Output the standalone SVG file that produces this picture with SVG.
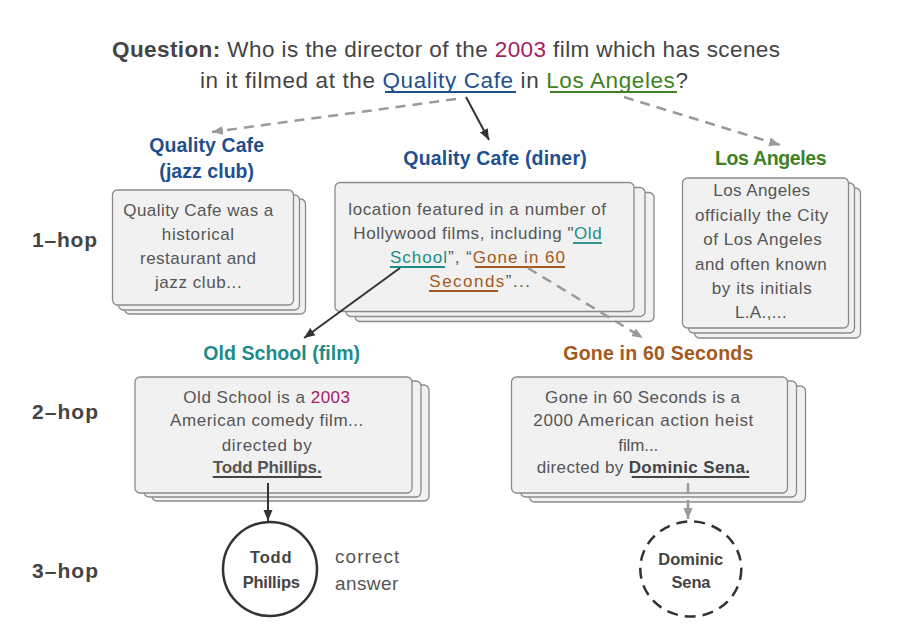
<svg xmlns="http://www.w3.org/2000/svg" width="920" height="639" viewBox="0 0 920 639">
<style>
text{font-family:"Liberation Sans",Arial,Helvetica,sans-serif}
.box{fill:#f1f1f1;stroke:#8a8a8a;stroke-width:1.3}
.bt{font-size:17px;fill:#555;text-anchor:middle}
.lbl{font-size:19.5px;font-weight:bold;text-anchor:middle}
.hop{font-size:21px;font-weight:bold;fill:#444}
.title{font-size:22.5px;fill:#444}
.solid{stroke:#333;stroke-width:2;fill:none}
.dash{stroke:#9a9a9a;stroke-width:2.5;stroke-dasharray:10 7;fill:none}
.ul{stroke-width:1.8}
.blue{fill:#1f4f8e}
.green{fill:#3f8124}
.teal{fill:#1d8c88}
.brown{fill:#a35a1c}
.red{fill:#a3205e}
.ctext{font-size:16.5px;font-weight:bold;fill:#444;text-anchor:middle}
</style>
<defs>
<marker id="ab" markerWidth="12" markerHeight="10" refX="11" refY="5" orient="auto" markerUnits="userSpaceOnUse"><path d="M0,0.5 L11,5 L0,9.5 z" fill="#333"/></marker>
<marker id="ag" markerWidth="12" markerHeight="10" refX="11" refY="5" orient="auto" markerUnits="userSpaceOnUse"><path d="M0,0.5 L11,5 L0,9.5 z" fill="#9a9a9a"/></marker>
</defs>
<rect width="920" height="639" fill="#ffffff"/>

<g id="question">
<text class="title" x="112" y="57" textLength="668" lengthAdjust="spacing"><tspan font-weight="bold">Question:</tspan> Who is the director of the <tspan class="red">2003</tspan> film which has scenes</text>
<text class="title" x="200" y="88" textLength="488" lengthAdjust="spacing">in it filmed at the <tspan class="blue">Quality Cafe</tspan> in <tspan class="green">Los Angeles</tspan>?</text>
<line class="ul" x1="385" y1="92" x2="516" y2="92" stroke="#1f4f8e"/>
<line class="ul" x1="550" y1="92" x2="677" y2="92" stroke="#3f8124"/>
</g>

<g id="hops">
<text class="hop" x="32" y="247" textLength="65" lengthAdjust="spacing">1–hop</text>
<text class="hop" x="32" y="419" textLength="66" lengthAdjust="spacing">2–hop</text>
<text class="hop" x="32" y="578" textLength="66" lengthAdjust="spacing">3–hop</text>
</g>

<g id="jazz">
<text class="lbl blue" x="206.7" y="152" textLength="114.7" lengthAdjust="spacing">Quality Cafe</text>
<text class="lbl blue" x="206.7" y="178" textLength="94.7" lengthAdjust="spacing">(jazz club)</text>
<rect class="box" x="124.5" y="199" width="181" height="115" rx="5"/>
<rect class="box" x="118.5" y="195" width="181" height="115" rx="5"/>
<rect class="box" x="112.5" y="190" width="181" height="115" rx="5"/>
<text class="bt" x="198.3" y="216" textLength="150" lengthAdjust="spacing">Quality Cafe was a</text>
<text class="bt" x="198" y="240" textLength="72.3" lengthAdjust="spacing">historical</text>
<text class="bt" x="198" y="264" textLength="116" lengthAdjust="spacing">restaurant and</text>
<text class="bt" x="198.3" y="288" textLength="86.7" lengthAdjust="spacing">jazz club...</text>
</g>

<g id="diner">
<text class="lbl blue" x="495" y="165" textLength="183.3" lengthAdjust="spacing">Quality Cafe (diner)</text>
<rect class="box" x="355" y="192.5" width="299" height="129" rx="5"/>
<rect class="box" x="346" y="187.5" width="299" height="129" rx="5"/>
<rect class="box" x="335" y="182.5" width="299" height="129" rx="5"/>
<text class="bt" x="477.2" y="215" textLength="257.7" lengthAdjust="spacing">location featured in a number of</text>
<text class="bt" x="477.5" y="239" textLength="248.3" lengthAdjust="spacing">Hollywood films, including "<tspan class="teal">Old</tspan></text>
<text class="bt" x="477.5" y="263" textLength="175" lengthAdjust="spacing"><tspan class="teal">School</tspan>”, “<tspan class="brown">Gone in 60</tspan></text>
<text class="bt" x="479.7" y="287" textLength="100.7" lengthAdjust="spacing"><tspan class="brown">Seconds</tspan>”...</text>
<line class="ul" x1="573" y1="243" x2="602" y2="243" stroke="#1d8c88"/>
<line class="ul" x1="390" y1="267" x2="445" y2="267" stroke="#1d8c88"/>
<line class="ul" x1="475" y1="267" x2="565" y2="267" stroke="#a35a1c"/>
<line class="ul" x1="429" y1="291" x2="498" y2="291" stroke="#a35a1c"/>
</g>

<g id="la">
<text class="lbl green" x="770.8" y="165" textLength="111.7" lengthAdjust="spacing">Los Angeles</text>
<rect class="box" x="694.5" y="188" width="166" height="150" rx="5"/>
<rect class="box" x="688.5" y="183" width="166" height="150" rx="5"/>
<rect class="box" x="682.5" y="178" width="166" height="150" rx="5"/>
<text class="bt" x="761.7" y="196" textLength="96.7" lengthAdjust="spacing">Los Angeles</text>
<text class="bt" x="761.7" y="221" textLength="133.3" lengthAdjust="spacing">officially the City</text>
<text class="bt" x="762.5" y="245" textLength="118.3" lengthAdjust="spacing">of Los Angeles</text>
<text class="bt" x="760.8" y="270" textLength="131.7" lengthAdjust="spacing">and often known</text>
<text class="bt" x="761.7" y="294" textLength="100" lengthAdjust="spacing">by its initials</text>
<text class="bt" x="760.8" y="318" textLength="51.7" lengthAdjust="spacing">L.A.,...</text>
</g>

<g id="oldschool">
<text class="lbl teal" x="281.7" y="360" textLength="156.7" lengthAdjust="spacing">Old School (film)</text>
<rect class="box" x="152" y="385" width="277" height="116" rx="5"/>
<rect class="box" x="144" y="381" width="277" height="116" rx="5"/>
<rect class="box" x="135" y="377" width="277" height="116" rx="5"/>
<text class="bt" x="266.7" y="403" textLength="166.7" lengthAdjust="spacing">Old School is a <tspan class="red">2003</tspan></text>
<text class="bt" x="266.7" y="426" textLength="193.3" lengthAdjust="spacing">American comedy film...</text>
<text class="bt" x="266.7" y="451" textLength="90" lengthAdjust="spacing">directed by</text>
<text class="bt" x="267.2" y="473" textLength="109" lengthAdjust="spacing" font-weight="bold" fill="#444">Todd Phillips.</text>
<line class="ul" x1="212.7" y1="477" x2="321.7" y2="477" stroke="#444"/>
</g>

<g id="gone">
<text class="lbl brown" x="658.3" y="360" textLength="190" lengthAdjust="spacing">Gone in 60 Seconds</text>
<rect class="box" x="529.5" y="386" width="276" height="116" rx="5"/>
<rect class="box" x="520.5" y="381" width="276" height="116" rx="5"/>
<rect class="box" x="511.5" y="377" width="276" height="116" rx="5"/>
<text class="bt" x="642.5" y="403" textLength="195" lengthAdjust="spacing">Gone in 60 Seconds is a</text>
<text class="bt" x="643.3" y="426" textLength="220" lengthAdjust="spacing">2000 American action heist</text>
<text class="bt" x="638.3" y="451" textLength="40" lengthAdjust="spacing">film...</text>
<text class="bt" x="643.3" y="473" textLength="213.3" lengthAdjust="spacing">directed by <tspan font-weight="bold" fill="#444">Dominic Sena.</tspan></text>
<line class="ul" x1="631.7" y1="477" x2="749.3" y2="477" stroke="#444"/>
</g>

<g id="todd">
<circle cx="270" cy="569" r="47" fill="none" stroke="#333" stroke-width="2.5"/>
<text class="ctext" x="270.8" y="563" textLength="41.7" lengthAdjust="spacing">Todd</text>
<text class="ctext" x="271.3" y="588" textLength="57.3" lengthAdjust="spacing">Phillips</text>
<text x="335" y="563" font-size="19" fill="#555" textLength="64.3" lengthAdjust="spacing">correct</text>
<text x="335" y="590" font-size="19" fill="#555" textLength="63.3" lengthAdjust="spacing">answer</text>
</g>

<g id="dominic">
<ellipse cx="690.8" cy="569" rx="50.5" ry="47.5" fill="none" stroke="#333" stroke-width="2.5" stroke-dasharray="11 7"/>
<text class="ctext" x="690.8" y="565" textLength="65" lengthAdjust="spacing">Dominic</text>
<text class="ctext" x="691" y="588" textLength="39" lengthAdjust="spacing">Sena</text>
</g>

<g id="connectors">
<line class="solid" x1="466" y1="97" x2="489" y2="140" marker-end="url(#ab)"/>
<line class="dash" x1="456" y1="99" x2="212" y2="132" marker-end="url(#ag)"/>
<line class="dash" x1="624" y1="97" x2="780" y2="145" marker-end="url(#ag)"/>
<line class="solid" x1="400" y1="268" x2="304" y2="338" marker-end="url(#ab)"/>
<line class="dash" x1="528" y1="268" x2="643" y2="338" marker-end="url(#ag)"/>
<line class="solid" x1="268" y1="483" x2="268" y2="521" marker-end="url(#ab)"/>
<line class="dash" x1="688" y1="483" x2="688" y2="519" stroke-dasharray="8 5" marker-end="url(#ag)"/>
</g>
</svg>
